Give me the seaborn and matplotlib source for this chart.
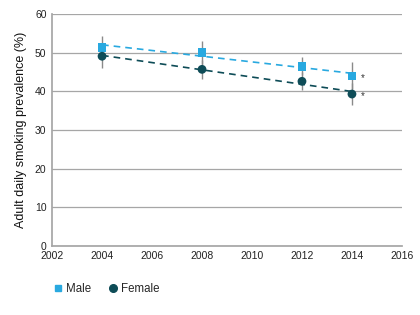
import numpy as np
import pandas as pd
import matplotlib
matplotlib.use("Agg")
import matplotlib.pyplot as plt
import seaborn as sns
from matplotlib.lines import Line2D

years = [2004, 2008, 2012, 2014]
male = [51.4, 50.1, 46.5, 44.0]
female = [49.1, 45.7, 42.6, 39.3]
male_err = [2.9, 2.9, 2.3, 3.5]
female_err = [3.1, 2.5, 2.3, 2.9]
series_names = ["Male", "Female"]
xticks = [2002, 2004, 2006, 2008, 2010, 2012, 2014, 2016]
yticks = [0, 10, 20, 30, 40, 50, 60]

male_color = "#29A9E0"
female_color = "#0E4C57"

sns.set_theme(style="white")
plt.rcParams['font.family'] = ['Liberation Sans', 'DejaVu Sans']

df = pd.DataFrame({
    "year": years * 2,
    "value": male + female,
    "err": male_err + female_err,
    "sex": [series_names[0]] * len(years) + [series_names[1]] * len(years),
})

fig = plt.figure(figsize=(4.2, 3.15), dpi=100)
ax = fig.add_axes([0.124, 0.22, 0.833, 0.735])

# error bars
for sex in series_names:
    d = df[df.sex == sex]
    ax.errorbar(d.year, d.value, yerr=d.err, fmt="none", ecolor="#8a8a8a",
                elinewidth=1.0, capsize=0, zorder=2)

# trend lines
for sex, col in zip(series_names, [male_color, female_color]):
    d = df[df.sex == sex]
    sns.regplot(data=d, x="year", y="value", scatter=False, ci=None, ax=ax,
                truncate=True,
                line_kws=dict(color=col, lw=1.2, ls=(0, (4, 3)), zorder=3))

# points
sns.scatterplot(data=df, x="year", y="value", hue="sex", style="sex",
                palette={"Male": male_color, "Female": female_color},
                markers={"Male": "s", "Female": "o"}, s=40, linewidth=0,
                ax=ax, zorder=4, legend=False)

# asterisks for 2014
for v in [male[-1], female[-1]]:
    ax.text(years[-1] + 0.35, v - 0.6, "*", fontsize=7, color="#333333",
            ha="left", va="center")

ax.set_xlim(2002, 2016)
ax.set_ylim(0, 60)
ax.set_xticks(xticks)
ax.set_yticks(yticks)
ax.yaxis.grid(True, color="#a6a6a6", lw=0.9)
ax.xaxis.grid(False)
ax.set_axisbelow(True)
for s in ["top", "right"]:
    ax.spines[s].set_visible(False)
ax.spines["left"].set_color("#a6a6a6")
ax.spines["bottom"].set_color("#a6a6a6")
ax.tick_params(axis="both", labelsize=7.5, colors="#222222", length=0, pad=4)
ax.set_xlabel("")
ax.set_ylabel("Adult daily smoking prevalence (%)", fontsize=9, color="#111111", labelpad=6)

handles = [
    Line2D([], [], marker="s", color=male_color, ls="none", markersize=5),
    Line2D([], [], marker="o", color=female_color, ls="none", markersize=5.5),
]
fig.legend(handles, series_names, loc="lower left", bbox_to_anchor=(0.1, 0.03),
           ncol=2, frameon=False, fontsize=8.3, handletextpad=0.2,
           columnspacing=1.4, handlelength=1.0)

fig.savefig("out.png", dpi=100)
